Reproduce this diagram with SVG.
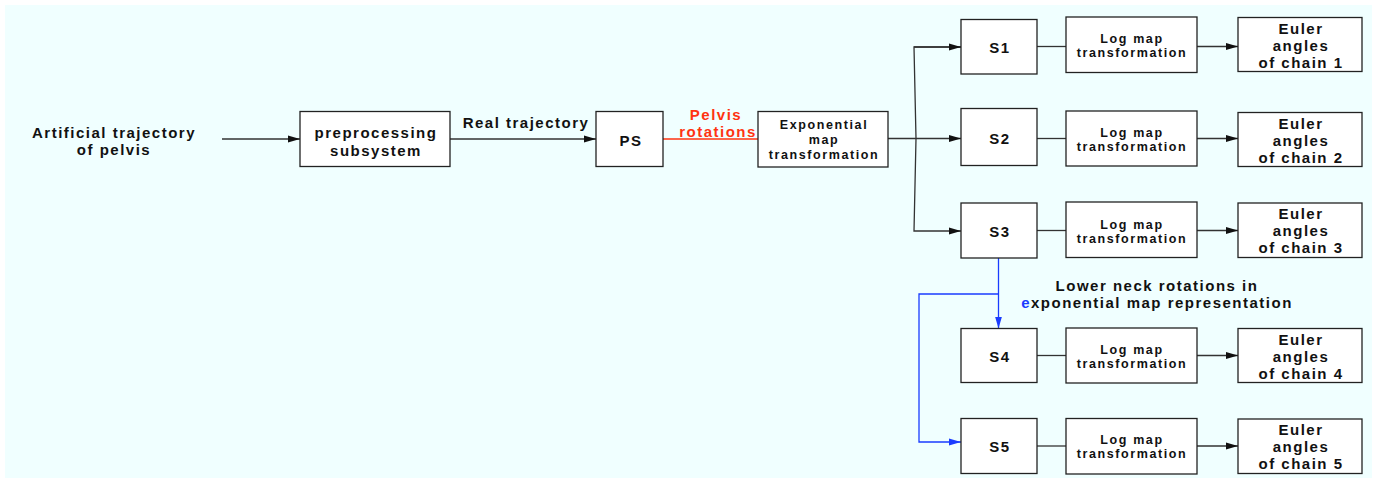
<svg xmlns="http://www.w3.org/2000/svg" width="1377" height="482" viewBox="0 0 1377 482">
<defs>
<marker id="ah" markerUnits="userSpaceOnUse" markerWidth="13" markerHeight="8" refX="12" refY="4" orient="auto"><path d="M0,0.5 L12,4 L0,7.5 Z" fill="#111"/></marker>
<marker id="ahb" markerUnits="userSpaceOnUse" markerWidth="13" markerHeight="8" refX="12" refY="4" orient="auto"><path d="M0,0.5 L12,4 L0,7.5 Z" fill="#1a3cff"/></marker>
</defs>
<style>
.bx{fill:#fff;stroke:#222;stroke-width:1.3}
.t{font-family:"Liberation Sans",Arial,sans-serif;font-weight:bold;font-size:15px;letter-spacing:1.5px;fill:#111;text-anchor:middle}
.s{font-size:12.5px;letter-spacing:1.6px}
.ln{fill:none;stroke:#333;stroke-width:1.3}
.bl{fill:none;stroke:#1a3cff;stroke-width:1.3}
</style>
<rect x="5" y="5" width="1367" height="473" fill="#f0ffff"/>
<g id="connectors">
<path class="ln" d="M222,139 H300" marker-end="url(#ah)"/>
<path class="ln" d="M450,139 H596" marker-end="url(#ah)"/>
<path d="M663,139 H758" fill="none" stroke="#ff3311" stroke-width="1.5"/>
<path class="ln" d="M888,138.5 H961" marker-end="url(#ah)"/>
<path class="ln" d="M961,47 H914 L916,138.5 L914,231 H961" marker-end="url(#ah)"/>
<path class="ln" d="M914,47 H961" marker-end="url(#ah)"/>
<path class="ln" d="M1037,46.5 H1066"/>
<path class="ln" d="M1037,138.5 H1066"/>
<path class="ln" d="M1037,230.5 H1066"/>
<path class="ln" d="M1037,355.5 H1066"/>
<path class="ln" d="M1037,446 H1066"/>
<path class="ln" d="M1197,46.5 H1238" marker-end="url(#ah)"/>
<path class="ln" d="M1197,138.5 H1238" marker-end="url(#ah)"/>
<path class="ln" d="M1197,230.5 H1238" marker-end="url(#ah)"/>
<path class="ln" d="M1197,355.5 H1238" marker-end="url(#ah)"/>
<path class="ln" d="M1197,446 H1238" marker-end="url(#ah)"/>
<path class="bl" d="M998.5,258 V328.5" marker-end="url(#ahb)"/>
<path class="bl" d="M998.5,294 H919 V442 H961" marker-end="url(#ahb)"/>
</g>
<g id="input"><text class="t" x="114" y="138">Artificial trajectory</text><text class="t" x="114" y="155">of pelvis</text></g>
<g id="preprocessing"><rect class="bx" x="300" y="111.5" width="150" height="55"/><text class="t" x="376" y="138">preprocessing</text><text class="t" x="376" y="155.5">subsystem</text></g>
<g id="real-label"><text class="t" x="526" y="127.5">Real trajectory</text></g>
<g id="ps"><rect class="bx" x="596" y="111.5" width="67" height="55"/><text class="t" x="631" y="145.5">PS</text></g>
<g id="pelvis-label"><text class="t" x="716" y="120" style="fill:#ff3311">Pelvis</text><text class="t" x="718" y="137" style="fill:#ff3311">rotations</text></g>
<g id="expmap"><rect class="bx" x="758" y="111.5" width="130" height="55.5"/><text class="t s" x="824" y="129">Exponential</text><text class="t s" x="824" y="143.5">map</text><text class="t s" x="824" y="158.5">transformation</text></g>
<g id="s1"><rect class="bx" x="961" y="19.5" width="76" height="54.5"/><text class="t" x="1000" y="52.5">S1</text></g>
<g id="s2"><rect class="bx" x="961" y="108.5" width="76" height="57"/><text class="t" x="1000" y="143.5">S2</text></g>
<g id="s3"><rect class="bx" x="961" y="203" width="76" height="55"/><text class="t" x="1000" y="236.5">S3</text></g>
<g id="s4"><rect class="bx" x="961" y="328.5" width="76" height="54"/><text class="t" x="1000" y="361.5">S4</text></g>
<g id="s5"><rect class="bx" x="961" y="418.5" width="76" height="55"/><text class="t" x="1000" y="452">S5</text></g>
<g id="log1"><rect class="bx" x="1066" y="17" width="131" height="55.5"/><text class="t s" x="1132" y="43">Log map</text><text class="t s" x="1132" y="57">transformation</text></g>
<g id="log2"><rect class="bx" x="1066" y="111" width="131" height="55"/><text class="t s" x="1132" y="136.5">Log map</text><text class="t s" x="1132" y="150.5">transformation</text></g>
<g id="log3"><rect class="bx" x="1066" y="202" width="131" height="55.5"/><text class="t s" x="1132" y="228.5">Log map</text><text class="t s" x="1132" y="242.5">transformation</text></g>
<g id="log4"><rect class="bx" x="1066" y="328" width="131" height="55"/><text class="t s" x="1132" y="353.5">Log map</text><text class="t s" x="1132" y="367.5">transformation</text></g>
<g id="log5"><rect class="bx" x="1066" y="418.5" width="131" height="55.5"/><text class="t s" x="1132" y="444">Log map</text><text class="t s" x="1132" y="458">transformation</text></g>
<g id="euler1"><rect class="bx" x="1238" y="17.5" width="124" height="54"/><text class="t" x="1301" y="33.5">Euler</text><text class="t" x="1301" y="50.5">angles</text><text class="t" x="1301" y="67.5">of chain 1</text></g>
<g id="euler2"><rect class="bx" x="1238" y="112.5" width="124" height="54"/><text class="t" x="1301" y="128.5">Euler</text><text class="t" x="1301" y="145.5">angles</text><text class="t" x="1301" y="162.5">of chain 2</text></g>
<g id="euler3"><rect class="bx" x="1238" y="203" width="124" height="54.5"/><text class="t" x="1301" y="219">Euler</text><text class="t" x="1301" y="236">angles</text><text class="t" x="1301" y="253">of chain 3</text></g>
<g id="euler4"><rect class="bx" x="1238" y="328.5" width="124" height="54"/><text class="t" x="1301" y="344.5">Euler</text><text class="t" x="1301" y="361.5">angles</text><text class="t" x="1301" y="378.5">of chain 4</text></g>
<g id="euler5"><rect class="bx" x="1238" y="419" width="124" height="54.5"/><text class="t" x="1301" y="435">Euler</text><text class="t" x="1301" y="452">angles</text><text class="t" x="1301" y="469">of chain 5</text></g>
<g id="neck-label"><text class="t" x="1157" y="290.5">Lower neck rotations in</text><text class="t" x="1157" y="308"><tspan style="fill:#1a3cff">e</tspan>xponential map representation</text></g>
</svg>
